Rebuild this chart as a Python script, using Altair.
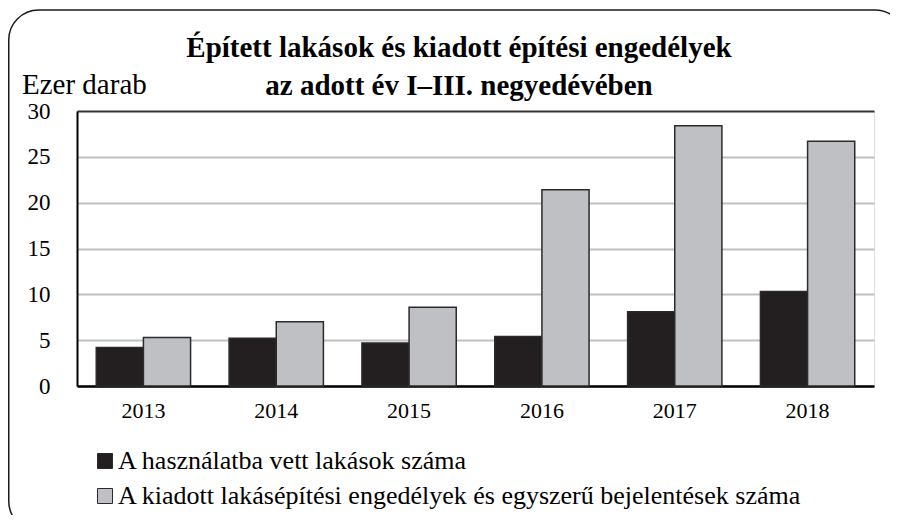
import altair as alt
import pandas as pd

years = ["2013", "2014", "2015", "2016", "2017", "2018"]
built = [4.2, 5.2, 4.7, 5.4, 8.1, 10.3]
permits = [5.3, 7.0, 8.6, 21.4, 28.4, 26.7]
series = [
    "A használatba vett lakások száma",
    "A kiadott lakásépítési engedélyek és egyszerű bejelentések száma",
]
series_colors = ["#231f20", "#bfc0c4"]
y_ticks = [0, 5, 10, 15, 20, 25, 30]
title_lines = [
    "Épített lakások és kiadott építési engedélyek",
    "az adott év I–III. negyedévében",
]
y_title = "Ezer darab"
fig_label = "16. ábra"

rows = []
for i, yr in enumerate(years):
    rows.append({"year": yr, "series": series[0], "value": built[i]})
    rows.append({"year": yr, "series": series[1], "value": permits[i]})
df = pd.DataFrame(rows)

FONT = "Liberation Serif"
W, H = 797, 275

bars = alt.Chart(df).mark_bar(stroke="#2b2b2b", strokeWidth=1.5).encode(
    x=alt.X(
        "year:N",
        sort=years,
        scale=alt.Scale(paddingInner=0.29, paddingOuter=0.145),
        axis=alt.Axis(
            title=None, labelAngle=0, labelFont=FONT, labelFontSize=22,
            labelColor="black", labelPadding=14, tickSize=0,
            domainColor="black", domainWidth=2.5, grid=False,
        ),
    ),
    xOffset=alt.XOffset("series:N", sort=series),
    y=alt.Y(
        "value:Q",
        scale=alt.Scale(domain=[0, 30], nice=False),
        axis=alt.Axis(
            title=None, values=y_ticks, labelFont=FONT, labelFontSize=23,
            labelColor="black", labelPadding=27, tickSize=0,
            domainColor="black", domainWidth=2, grid=True,
            gridColor={"condition": {"test": "datum.value === 30", "value": "#333333"}, "value": "#c0c0c0"},
            gridWidth=2,
        ),
    ),
    color=alt.Color(
        "series:N",
        sort=series,
        scale=alt.Scale(domain=series, range=series_colors),
        legend=alt.Legend(
            title=None, orient="none", legendX=15, legendY=337,
            direction="vertical", symbolType="square", symbolSize=225,
            symbolStrokeColor="#2b2b2b", symbolStrokeWidth=1,
            labelFont=FONT, labelFontSize=26, labelColor="black",
            labelLimit=900, rowPadding=9, labelOffset=0, padding=0,
        ),
    ),
)

def text_layer(txt, x, y, size, weight="normal", align="left"):
    return alt.Chart(pd.DataFrame({"t": [txt]})).mark_text(
        font=FONT, fontSize=size, fontWeight=weight, align=align,
        baseline="alphabetic", color="black",
    ).encode(text="t:N", x=alt.value(x), y=alt.value(y))

t1 = text_layer(title_lines[0], 459 - 77, 57 - 111, 29, "bold", "center")
t2 = text_layer(title_lines[1], 459 - 77, 95 - 111, 29, "bold", "center")
yt = text_layer(y_title, 22 - 77, 94 - 111, 29)
fl = text_layer(fig_label, 898 - 77, 6 - 111, 16, "normal", "right")

frame = alt.Chart(pd.DataFrame({"a": [0]})).mark_rect(
    fill=None, stroke="#1a1a1a", strokeWidth=1.5, cornerRadius=30,
).encode(
    x=alt.value(8.75 - 77), x2=alt.value(905 - 77),
    y=alt.value(10 - 111), y2=alt.value(531 - 111),
)

chart = alt.layer(frame, bars, t1, t2, yt, fl).properties(
    width=W, height=H,
    autosize=alt.AutoSizeParams(type="none"),
    padding={"left": 69, "top": 103, "right": 16, "bottom": 129},
).configure_view(stroke="#333333", strokeWidth=2).configure(background="white")

chart.save("out.html", embed_options={"renderer": "svg", "actions": False})
